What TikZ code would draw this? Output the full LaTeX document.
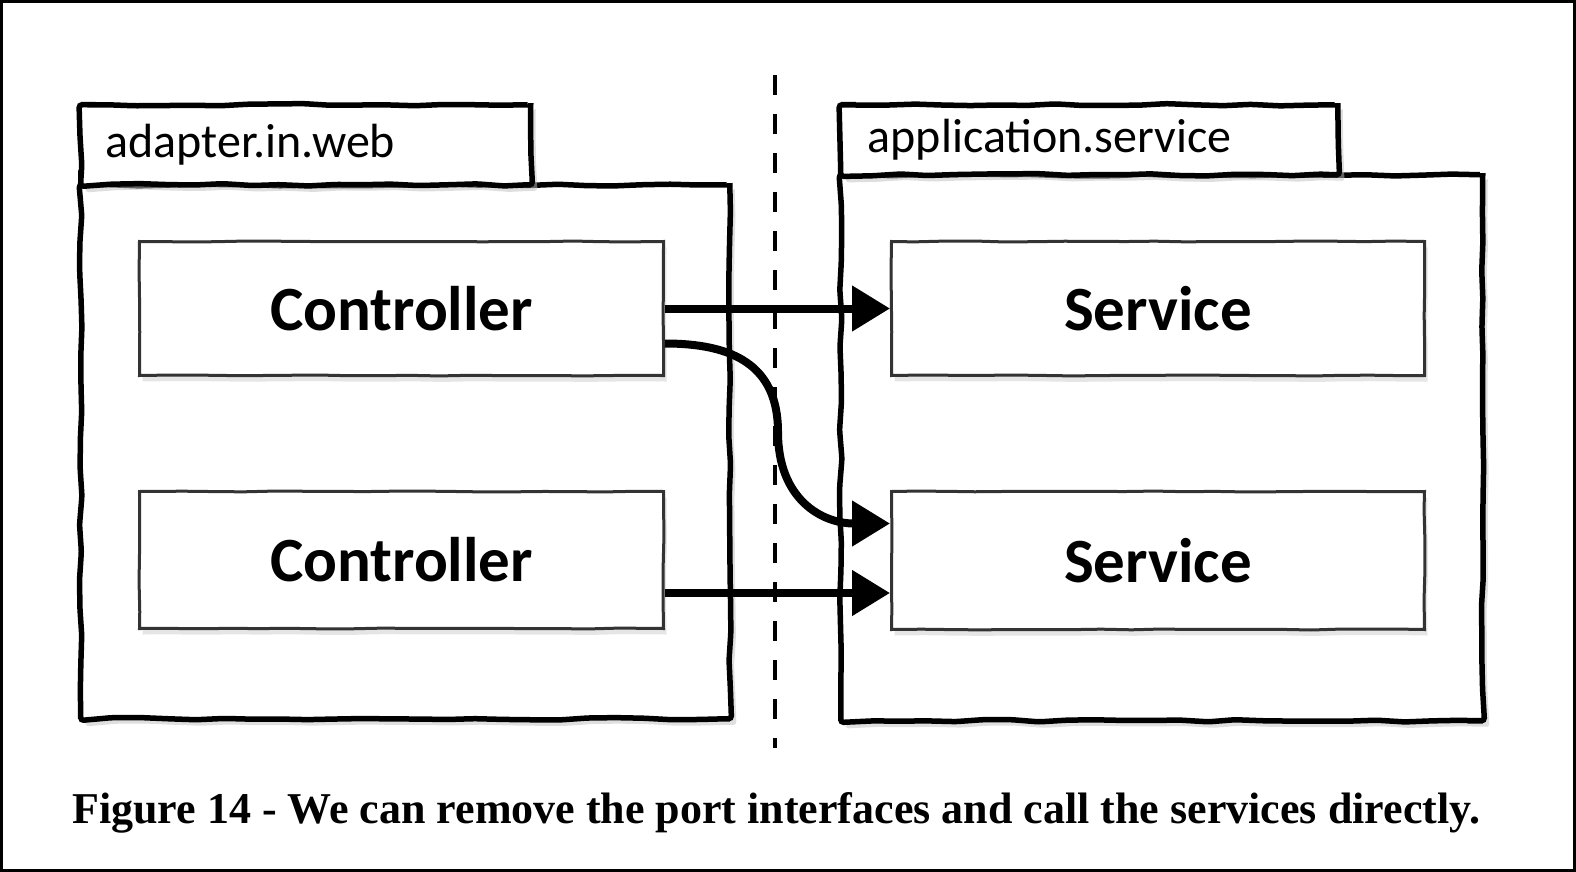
\documentclass[tikz,border=0pt]{standalone}
\usepackage{fontspec}
\setmainfont{Liberation Serif}
\newfontfamily\carlito{Carlito}
\usetikzlibrary{arrows.meta,decorations.pathmorphing,shadows}
\tikzstyle{pkg}=[draw=black,fill=white,line width=5.5pt,rounded corners=3pt,decorate,decoration={random steps,segment length=28pt,amplitude=1.2pt},drop shadow={shadow xshift=5pt,shadow yshift=-6pt,fill=black!25}]
\tikzstyle{tab}=[pkg,anchor=north west,inner xsep=25pt,align=left,font=\carlito\fontsize{48}{48}\selectfont]
\tikzstyle{cls}=[draw=black!80,fill=white,line width=3pt,decorate,decoration={random steps,segment length=30pt,amplitude=.5pt},drop shadow={shadow xshift=3pt,shadow yshift=-6pt,fill=black!20},anchor=north west,font=\carlito\bfseries\fontsize{63}{63}\selectfont]
\tikzstyle{call}=[line width=8pt,-{Triangle[length=38pt,width=44pt]}]
\begin{document}
\begin{tikzpicture}[x=1pt,y=-1pt]
\pgfmathsetseed{7}
\useasboundingbox (0,0) rectangle (1576,872);
\draw[line width=3pt] (1.5,1.5) rectangle (1574.5,870.5);
% paquetes
\node[pkg,anchor=north west,minimum width=649pt,minimum height=534pt] (wp) at (78,182) {};
\node[tab,text width=400pt,minimum height=80pt] (wt) at (78,102) {adapter.in.web};
\node[pkg,anchor=north west,minimum width=642pt,minimum height=546pt] (ap) at (838,172) {};
\node[tab,text width=443pt,inner xsep=27pt,minimum height=70pt] (at) at (838,102) {application.service};
% clases
\node[cls,minimum width=524pt,minimum height=134pt] (c1) at (138,240) {Controller};
\node[cls,minimum width=524pt,minimum height=137pt] (c2) at (138,490) {Controller};
\node[cls,minimum width=533pt,minimum height=134pt] (s1) at (890,240) {Service};
\node[cls,minimum width=533pt,minimum height=138pt] (s2) at (890,490) {Service};
\draw[line width=4.5pt,dash pattern=on 20pt off 19pt] (775,75) -- (775,748);
\coordinate (m) at (778,432);
\draw[call] (c1.east) -- (s1.west);
\draw[call] ([yshift=-35pt]c1.east) to[out=0,in=90,looseness=1.2] (m) to[out=-90,in=180,looseness=1.2] ([yshift=37pt]s2.west);
\draw[call] ([yshift=-33pt]c2.east) -- ([yshift=-33pt]c2.east -| s2.west);
\node[font=\bfseries\fontsize{44}{44}\selectfont,anchor=base west,inner sep=0pt] (cap) at (72,823) {Figure 14 - We can remove the port interfaces and call the services directly.};
\end{tikzpicture}
\end{document}
